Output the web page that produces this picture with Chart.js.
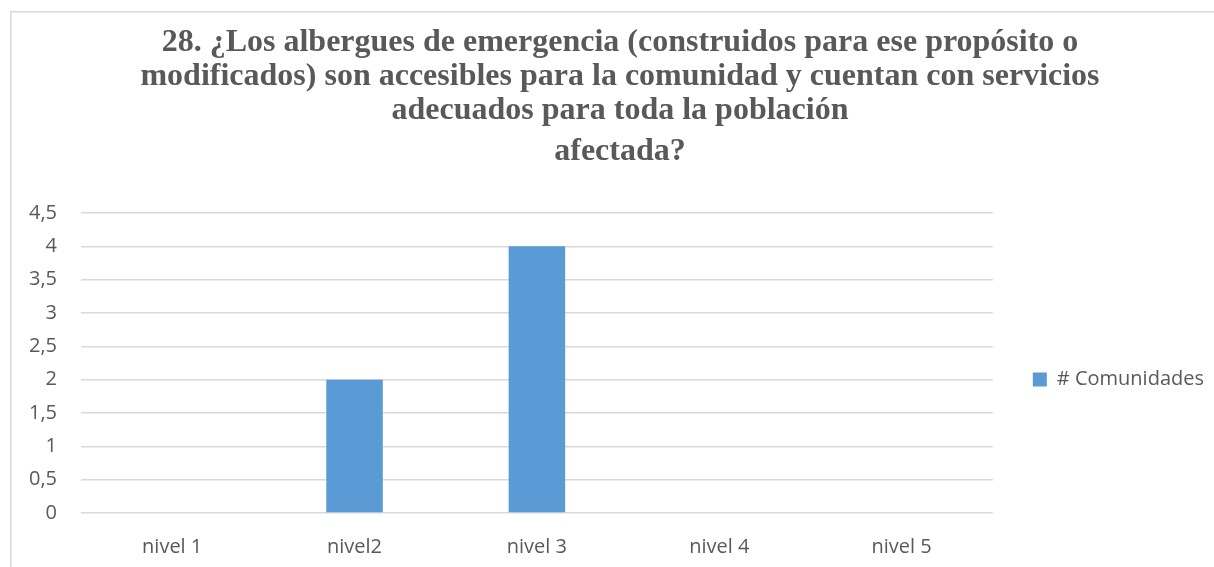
<!DOCTYPE html>
<html>
<head>
<meta charset="utf-8">
<script src="https://cdn.jsdelivr.net/npm/chart.js@4/dist/chart.umd.min.js"></script>
<style>
  html, body { margin: 0; padding: 0; background: #fff; }
  #chart { display: block; }
</style>
</head>
<body>
<canvas id="chart" width="1214" height="567"></canvas>
<script>
const TITLE_LINES = [
  `28. ¿Los albergues de emergencia (construidos para ese propósito o`,
  `modificados) son accesibles para la comunidad y cuentan con servicios`,
  `adecuados para toda la población`
];
const TITLE_LAST = `afectada?`;
const categories = [`nivel 1`, `nivel2`, `nivel 3`, `nivel 4`, `nivel 5`];
const seriesName = `# Comunidades`;
const comunidades = [0, 2, 4, 0, 0];
const yMax = 4.5;
const yStep = 0.5;

const TEXT_COLOR = `#595959`;
const GRID_COLOR = `#d9d9d9`;
const BAR_COLOR = `#5b9bd5`;
const SANS = `'Open Sans', sans-serif`;
const titleFont = {family: `'Liberation Serif', 'Times New Roman', serif`, size: 32, weight: `bold`, lineHeight: 1.0625};

// frame round the chart like the excel chart area
const framePlugin = {
  id: `frame`,
  beforeDraw(chart) {
    const c = chart.ctx;
    c.save();
    c.fillStyle = `#ffffff`;
    c.fillRect(0, 0, chart.width, chart.height);
    c.strokeStyle = GRID_COLOR;
    c.lineWidth = 1.5;
    c.strokeRect(10.75, 11.75, chart.width + 20, chart.height + 20);
    c.restore();
  }
};

const ctx = document.querySelector(`#chart`);

const chart = new Chart(ctx, {
  type: `bar`,
  plugins: [framePlugin],
  data: {
    labels: categories,
    datasets: [{
      label: seriesName,
      data: comunidades,
      backgroundColor: BAR_COLOR,
      borderWidth: 0,
      categoryPercentage: 1,
      barPercentage: 0.31
    }]
  },
  options: {
    responsive: false,
    animation: false,
    layout: {
      padding: {top: 26, left: 26, right: 0, bottom: 0}
    },
    plugins: {
      title: {
        display: true,
        text: TITLE_LINES,
        color: TEXT_COLOR,
        font: titleFont,
        padding: {top: 0, bottom: 7}
      },
      subtitle: {
        display: true,
        text: TITLE_LAST,
        color: TEXT_COLOR,
        font: titleFont,
        padding: {top: 0, bottom: 44}
      },
      legend: {
        position: `right`,
        fullSize: false,
        title: {display: true, text: ` `, font: {family: SANS, size: 20}, padding: 4.5},
        labels: {
          color: TEXT_COLOR,
          font: {family: SANS, size: 20},
          boxWidth: 14,
          boxHeight: 14,
          padding: 10
        }
      },
      tooltip: {enabled: false}
    },
    scales: {
      x: {
        afterFit: (scale) => {
          scale.height = 54;
        },
        grid: {display: false, drawTicks: false},
        border: {display: false},
        ticks: {
          color: TEXT_COLOR,
          font: {family: SANS, size: 20},
          padding: 22
        }
      },
      y: {
        min: 0,
        max: yMax,
        afterFit: (scale) => {
          scale.width = 55;
        },
        grid: {color: GRID_COLOR, lineWidth: 1.5, drawTicks: false},
        border: {display: false},
        ticks: {
          stepSize: yStep,
          color: TEXT_COLOR,
          font: {family: SANS, size: 20},
          padding: 24,
          callback: (value) => String(value).replace(`.`, `,`)
        }
      },
      // empty strip between plot and legend
      gap: {
        position: `right`,
        display: true,
        afterFit: (scale) => {
          scale.width = 30;
        },
        grid: {display: false, drawTicks: false},
        border: {display: false},
        ticks: {display: false}
      }
    }
  }
});
</script>
</body>
</html>
